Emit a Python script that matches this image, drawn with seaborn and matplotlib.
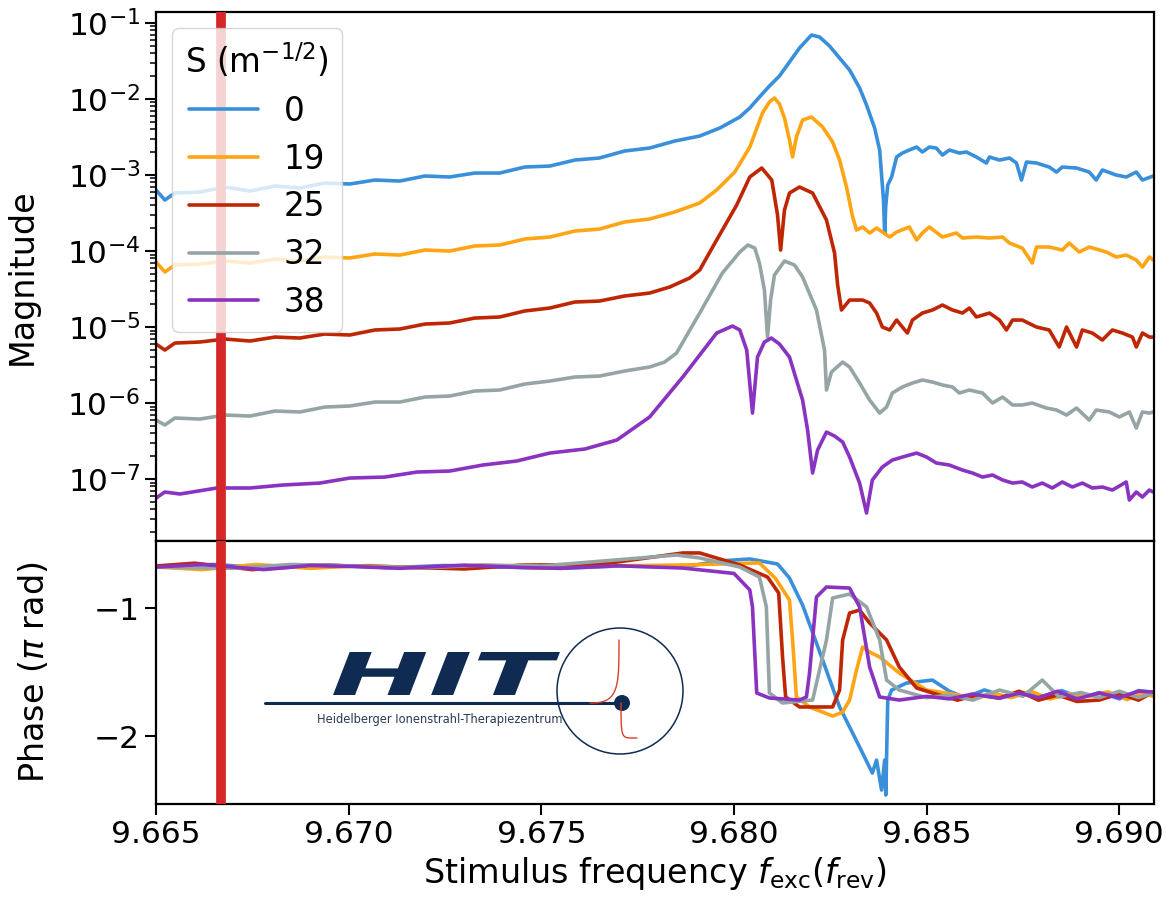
import numpy as np
import pandas as pd
import matplotlib
matplotlib.use("Agg")
import matplotlib.pyplot as plt
import seaborn as sns
from matplotlib.textpath import TextPath
from matplotlib.font_manager import FontProperties
from matplotlib.patches import PathPatch, Circle
from matplotlib.lines import Line2D
from matplotlib.transforms import Affine2D
from matplotlib.ticker import LogLocator, FixedLocator, FormatStrFormatter, NullFormatter

# ---------------- data ----------------
s_labels = ["0", "19", "25", "32", "38"]
colors = ["#3a8fdb", "#ffa514", "#bf2604", "#95a5a6", "#8a33c0"]
marker_freq = 9.66669

# Magnitude, stored as log10(|H|)
mag_f_s0 = [9.66500, 9.66523, 9.66549, 9.66614, 9.66679, 9.66744, 9.66809, 9.66873, 9.66938, 9.67003,
            9.67068, 9.67133, 9.67198, 9.67262, 9.67327, 9.67392, 9.67457, 9.67522, 9.67587, 9.67651,
            9.67716, 9.67781, 9.67846, 9.67911, 9.67963, 9.68015, 9.68041, 9.68066, 9.68092, 9.68118,
            9.68144, 9.68170, 9.68201, 9.68222, 9.68248, 9.68274, 9.68300, 9.68326, 9.68344, 9.68365,
            9.68378, 9.68383, 9.68388, 9.68391, 9.68394, 9.68399, 9.68409, 9.68422, 9.68437, 9.68455,
            9.68474, 9.68489, 9.68507, 9.68525, 9.68541, 9.68559, 9.68585, 9.68603, 9.68629, 9.68655,
            9.68663, 9.68689, 9.68715, 9.68733, 9.68746, 9.68759, 9.68785, 9.68818, 9.68837, 9.68852,
            9.68889, 9.68922, 9.68940, 9.68956, 9.68992, 9.69018, 9.69044, 9.69060, 9.69088]
mag_log_s0 = [-3.197, -3.329, -3.237, -3.224, -3.158, -3.211, -3.145, -3.171, -3.105, -3.118,
              -3.066, -3.079, -3.013, -3.026, -2.974, -2.974, -2.895, -2.882, -2.803, -2.776,
              -2.684, -2.645, -2.553, -2.487, -2.382, -2.237, -2.118, -1.974, -1.829, -1.697,
              -1.513, -1.329, -1.158, -1.184, -1.303, -1.461, -1.618, -1.855, -2.079, -2.382,
              -2.671, -3.000, -3.329, -3.763, -3.395, -3.132, -3.026, -2.763, -2.711, -2.671,
              -2.632, -2.697, -2.632, -2.645, -2.737, -2.671, -2.711, -2.697, -2.763, -2.842,
              -2.763, -2.803, -2.776, -2.842, -3.066, -2.829, -2.842, -2.895, -2.961, -2.895,
              -2.908, -2.961, -3.066, -2.934, -3.000, -3.026, -2.961, -3.066, -3.013]

mag_f_s19 = [9.66500, 9.66523, 9.66549, 9.66614, 9.66679, 9.66744, 9.66809, 9.66873, 9.66938, 9.67003,
             9.67068, 9.67133, 9.67198, 9.67262, 9.67327, 9.67392, 9.67457, 9.67522, 9.67587, 9.67651,
             9.67716, 9.67781, 9.67846, 9.67911, 9.67955, 9.68002, 9.68041, 9.68074, 9.68092, 9.68105,
             9.68118, 9.68131, 9.68144, 9.68152, 9.68162, 9.68178, 9.68201, 9.68230, 9.68256, 9.68274,
             9.68292, 9.68308, 9.68318, 9.68334, 9.68352, 9.68370, 9.68385, 9.68404, 9.68422, 9.68455,
             9.68474, 9.68489, 9.68507, 9.68541, 9.68577, 9.68593, 9.68629, 9.68663, 9.68697, 9.68715,
             9.68748, 9.68774, 9.68785, 9.68818, 9.68852, 9.68870, 9.68896, 9.68922, 9.68966, 9.68992,
             9.69018, 9.69044, 9.69060, 9.69078, 9.69088]
mag_log_s19 = [-4.145, -4.276, -4.184, -4.171, -4.132, -4.158, -4.105, -4.132, -4.079, -4.092,
               -4.039, -4.053, -3.987, -4.000, -3.934, -3.921, -3.842, -3.816, -3.737, -3.711,
               -3.618, -3.579, -3.487, -3.368, -3.197, -2.961, -2.632, -2.184, -2.039, -1.987,
               -2.066, -2.250, -2.539, -2.763, -2.500, -2.276, -2.237, -2.368, -2.566, -2.803,
               -3.158, -3.553, -3.724, -3.684, -3.763, -3.697, -3.750, -3.816, -3.750, -3.684,
               -3.855, -3.763, -3.684, -3.816, -3.763, -3.829, -3.816, -3.829, -3.816, -3.895,
               -3.961, -4.158, -3.947, -3.947, -3.987, -3.895, -4.013, -3.947, -4.013, -4.079,
               -4.053, -4.118, -4.211, -4.079, -4.118]

mag_f_s25 = [9.66500, 9.66523, 9.66549, 9.66614, 9.66679, 9.66744, 9.66809, 9.66873, 9.66938, 9.67003,
             9.67068, 9.67133, 9.67198, 9.67262, 9.67327, 9.67392, 9.67457, 9.67522, 9.67587, 9.67651,
             9.67716, 9.67781, 9.67833, 9.67885, 9.67911, 9.67955, 9.68007, 9.68041, 9.68072, 9.68098,
             9.68113, 9.68121, 9.68131, 9.68144, 9.68170, 9.68204, 9.68240, 9.68261, 9.68269, 9.68279,
             9.68300, 9.68334, 9.68352, 9.68370, 9.68385, 9.68404, 9.68422, 9.68437, 9.68450, 9.68463,
             9.68489, 9.68515, 9.68541, 9.68567, 9.68593, 9.68611, 9.68629, 9.68663, 9.68689, 9.68707,
             9.68723, 9.68748, 9.68785, 9.68818, 9.68844, 9.68863, 9.68889, 9.68904, 9.68930, 9.68956,
             9.68982, 9.69008, 9.69034, 9.69044, 9.69060, 9.69078, 9.69088]
mag_log_s25 = [-5.224, -5.303, -5.211, -5.197, -5.158, -5.184, -5.132, -5.145, -5.092, -5.105,
               -5.039, -5.026, -4.961, -4.947, -4.882, -4.868, -4.789, -4.750, -4.671, -4.658,
               -4.592, -4.553, -4.474, -4.355, -4.250, -3.855, -3.395, -3.026, -2.908, -3.066,
               -3.526, -3.987, -3.461, -3.237, -3.158, -3.237, -3.592, -4.026, -4.447, -4.776,
               -4.645, -4.645, -4.684, -4.816, -5.000, -5.039, -4.908, -5.000, -5.079, -4.908,
               -4.816, -4.776, -4.711, -4.776, -4.816, -4.750, -4.868, -4.816, -4.908, -5.039,
               -4.908, -4.908, -5.000, -5.039, -5.263, -5.000, -5.263, -5.039, -5.079, -5.171,
               -5.039, -5.079, -5.132, -5.263, -5.079, -5.132, -5.132]

mag_f_s32 = [9.66500, 9.66523, 9.66549, 9.66614, 9.66679, 9.66744, 9.66809, 9.66873, 9.66938, 9.67003,
             9.67068, 9.67133, 9.67198, 9.67262, 9.67327, 9.67392, 9.67457, 9.67522, 9.67587, 9.67651,
             9.67716, 9.67781, 9.67820, 9.67851, 9.67911, 9.67970, 9.68015, 9.68036, 9.68054, 9.68066,
             9.68079, 9.68087, 9.68095, 9.68105, 9.68131, 9.68157, 9.68178, 9.68214, 9.68235, 9.68240,
             9.68253, 9.68282, 9.68300, 9.68326, 9.68352, 9.68378, 9.68396, 9.68411, 9.68437, 9.68463,
             9.68489, 9.68515, 9.68541, 9.68567, 9.68585, 9.68611, 9.68645, 9.68671, 9.68697, 9.68723,
             9.68748, 9.68774, 9.68811, 9.68837, 9.68863, 9.68889, 9.68922, 9.68940, 9.68974, 9.69000,
             9.69026, 9.69044, 9.69060, 9.69078, 9.69088]
mag_log_s32 = [-6.224, -6.289, -6.197, -6.211, -6.158, -6.171, -6.105, -6.118, -6.053, -6.039,
               -5.987, -5.987, -5.921, -5.908, -5.842, -5.829, -5.750, -5.711, -5.658, -5.645,
               -5.579, -5.526, -5.461, -5.342, -4.816, -4.289, -4.013, -3.921, -3.961, -4.158,
               -4.513, -5.132, -4.645, -4.316, -4.132, -4.184, -4.342, -4.776, -5.303, -5.829,
               -5.592, -5.461, -5.526, -5.737, -5.961, -6.132, -6.053, -5.868, -5.789, -5.737,
               -5.697, -5.724, -5.763, -5.789, -5.868, -5.829, -5.868, -6.000, -5.921, -6.026,
               -6.026, -6.000, -6.066, -6.092, -6.158, -6.066, -6.224, -6.092, -6.118, -6.184,
               -6.118, -6.329, -6.118, -6.132, -6.118]

mag_f_s38 = [9.66500, 9.66523, 9.66562, 9.66658, 9.66744, 9.66829, 9.66925, 9.67003, 9.67094, 9.67177,
             9.67262, 9.67348, 9.67436, 9.67522, 9.67613, 9.67696, 9.67781, 9.67867, 9.67955, 9.67996,
             9.68015, 9.68033, 9.68048, 9.68061, 9.68079, 9.68097, 9.68118, 9.68144, 9.68178, 9.68191,
             9.68204, 9.68217, 9.68240, 9.68261, 9.68282, 9.68300, 9.68326, 9.68344, 9.68359, 9.68385,
             9.68411, 9.68437, 9.68474, 9.68500, 9.68525, 9.68559, 9.68593, 9.68619, 9.68645, 9.68671,
             9.68697, 9.68723, 9.68748, 9.68774, 9.68800, 9.68826, 9.68852, 9.68878, 9.68904, 9.68930,
             9.68956, 9.68982, 9.69018, 9.69026, 9.69044, 9.69060, 9.69078, 9.69088]
mag_log_s38 = [-7.250, -7.171, -7.197, -7.118, -7.118, -7.079, -7.053, -6.987, -6.974, -6.908,
               -6.895, -6.816, -6.763, -6.658, -6.605, -6.487, -6.184, -5.658, -5.079, -4.987,
               -5.039, -5.303, -6.132, -5.395, -5.197, -5.145, -5.224, -5.395, -5.961, -6.355,
               -6.921, -6.618, -6.382, -6.434, -6.513, -6.711, -7.053, -7.447, -7.013, -6.842,
               -6.750, -6.711, -6.658, -6.711, -6.789, -6.816, -6.882, -6.921, -6.974, -6.947,
               -7.013, -7.053, -7.039, -7.105, -7.053, -7.118, -7.039, -7.105, -7.053, -7.118,
               -7.105, -7.145, -7.039, -7.276, -7.171, -7.237, -7.145, -7.171]

# Phase in units of pi rad
ph_f_s0 = [9.66500, 9.66650, 9.66800, 9.66950, 9.67100, 9.67250, 9.67400, 9.67550, 9.67700, 9.67867,
           9.67963, 9.68041, 9.68113, 9.68144, 9.68178, 9.68214, 9.68274, 9.68326, 9.68359, 9.68370,
           9.68383, 9.68391, 9.68394, 9.68399, 9.68409, 9.68448, 9.68515, 9.68559, 9.68600, 9.68650,
           9.68700, 9.68750, 9.68800, 9.68850, 9.68900, 9.68950, 9.69000, 9.69050, 9.69088]
ph_s0 = [-0.680, -0.660, -0.690, -0.665, -0.685, -0.668, -0.680, -0.690, -0.672, -0.680,
         -0.633, -0.617, -0.656, -0.766, -0.977, -1.273, -1.773, -2.086, -2.289, -2.188,
         -2.422, -2.188, -2.461, -1.719, -1.641, -1.586, -1.563, -1.650, -1.700, -1.640,
         -1.690, -1.660, -1.700, -1.645, -1.700, -1.660, -1.710, -1.645, -1.660]

ph_f_s19 = [9.66500, 9.66620, 9.66760, 9.66900, 9.67050, 9.67200, 9.67350, 9.67500, 9.67651, 9.67867,
            9.68066, 9.68107, 9.68144, 9.68152, 9.68162, 9.68196, 9.68256, 9.68282, 9.68300, 9.68318,
            9.68334, 9.68352, 9.68378, 9.68429, 9.68500, 9.68567, 9.68620, 9.68670, 9.68720, 9.68770,
            9.68820, 9.68870, 9.68920, 9.68970, 9.69020, 9.69060, 9.69088]
ph_s19 = [-0.680, -0.700, -0.660, -0.690, -0.668, -0.688, -0.664, -0.690, -0.672, -0.664,
          -0.648, -0.766, -0.938, -1.250, -1.695, -1.773, -1.844, -1.813, -1.719, -1.484,
          -1.305, -1.344, -1.383, -1.508, -1.641, -1.672, -1.705, -1.665, -1.700, -1.650,
          -1.710, -1.670, -1.690, -1.655, -1.715, -1.665, -1.690]

ph_f_s25 = [9.66500, 9.66600, 9.66750, 9.66900, 9.67133, 9.67300, 9.67450, 9.67651, 9.67867, 9.67911,
            9.68015, 9.68087, 9.68116, 9.68126, 9.68134, 9.68170, 9.68256, 9.68274, 9.68282, 9.68300,
            9.68326, 9.68352, 9.68396, 9.68429, 9.68474, 9.68515, 9.68580, 9.68630, 9.68689, 9.68740,
            9.68790, 9.68840, 9.68890, 9.68948, 9.69000, 9.69050, 9.69088]
ph_s25 = [-0.672, -0.650, -0.700, -0.664, -0.680, -0.695, -0.665, -0.660, -0.570, -0.570,
          -0.664, -0.758, -0.883, -1.383, -1.695, -1.773, -1.773, -1.641, -1.250, -1.039,
          -1.016, -1.117, -1.250, -1.461, -1.625, -1.664, -1.720, -1.680, -1.703, -1.650,
          -1.720, -1.680, -1.730, -1.719, -1.670, -1.720, -1.656]

ph_f_s32 = [9.66500, 9.66700, 9.66850, 9.66950, 9.67200, 9.67350, 9.67500, 9.67851, 9.67911, 9.68015,
            9.68066, 9.68084, 9.68092, 9.68126, 9.68204, 9.68240, 9.68256, 9.68300, 9.68344, 9.68378,
            9.68396, 9.68429, 9.68500, 9.68559, 9.68620, 9.68689, 9.68750, 9.68800, 9.68844, 9.68900,
            9.68948, 9.69000, 9.69050, 9.69088]
ph_s32 = [-0.680, -0.690, -0.660, -0.668, -0.685, -0.665, -0.672, -0.586, -0.609, -0.680,
          -0.758, -0.992, -1.664, -1.742, -1.719, -1.250, -0.922, -0.891, -0.992, -1.250,
          -1.563, -1.641, -1.700, -1.680, -1.720, -1.641, -1.690, -1.563, -1.695, -1.660,
          -1.700, -1.650, -1.700, -1.664]

ph_f_s38 = [9.66500, 9.66620, 9.66780, 9.66900, 9.67003, 9.67133, 9.67300, 9.67450, 9.67550, 9.67700,
            9.67867, 9.68000, 9.68041, 9.68048, 9.68059, 9.68092, 9.68170, 9.68188, 9.68196, 9.68214,
            9.68240, 9.68300, 9.68326, 9.68352, 9.68378, 9.68429, 9.68500, 9.68559, 9.68620, 9.68689,
            9.68740, 9.68790, 9.68840, 9.68890, 9.68948, 9.69000, 9.69050, 9.69088]
ph_s38 = [-0.680, -0.660, -0.700, -0.668, -0.675, -0.690, -0.665, -0.684, -0.690, -0.670,
          -0.688, -0.730, -0.859, -0.992, -1.664, -1.703, -1.719, -1.695, -1.508, -0.914,
          -0.836, -0.844, -0.992, -1.461, -1.695, -1.719, -1.690, -1.710, -1.672, -1.705,
          -1.665, -1.700, -1.650, -1.710, -1.664, -1.700, -1.650, -1.656]

mag_freqs = [mag_f_s0, mag_f_s19, mag_f_s25, mag_f_s32, mag_f_s38]
mag_logs = [mag_log_s0, mag_log_s19, mag_log_s25, mag_log_s32, mag_log_s38]
ph_freqs = [ph_f_s0, ph_f_s19, ph_f_s25, ph_f_s32, ph_f_s38]
phases = [ph_s0, ph_s19, ph_s25, ph_s32, ph_s38]

df_mag = pd.concat([pd.DataFrame({"freq": f, "mag": 10.0 ** np.array(v), "S": s})
                    for f, v, s in zip(mag_freqs, mag_logs, s_labels)], ignore_index=True)
df_ph = pd.concat([pd.DataFrame({"freq": f, "phase": v, "S": s})
                   for f, v, s in zip(ph_freqs, phases, s_labels)], ignore_index=True)
palette = dict(zip(s_labels, colors))

# ---------------- figure ----------------
sns.set_theme(style="ticks")
plt.rcParams["font.family"] = ["DejaVu Sans"]
plt.rcParams["mathtext.fontset"] = "dejavusans"
for k in ("text.color", "axes.labelcolor", "xtick.color", "ytick.color", "axes.edgecolor"):
    plt.rcParams[k] = "black"
FS = 22.5
LFS = 24

W, H = 11.66, 9.09
fig = plt.figure(figsize=(W, H), dpi=100)
L, R = 156 / 1166, 1154 / 1166
ax1 = fig.add_axes([L, 1 - 541 / 909, R - L, (541 - 12) / 909])
ax2 = fig.add_axes([L, 1 - 804 / 909, R - L, (804 - 541) / 909], sharex=ax1)

sns.lineplot(data=df_mag, x="freq", y="mag", hue="S", hue_order=s_labels, palette=palette,
             estimator=None, sort=False, linewidth=2.6, ax=ax1)
sns.lineplot(data=df_ph, x="freq", y="phase", hue="S", hue_order=s_labels, palette=palette,
             estimator=None, sort=False, linewidth=2.6, ax=ax2, legend=False)

for ax in (ax1, ax2):
    ax.axvline(marker_freq, color="#d62728", lw=7, zorder=3)
    for sp in ax.spines.values():
        sp.set_linewidth(1.6)
        sp.set_color("black")
        sp.set_visible(True)

ax1.set_yscale("log")
ax1.set_ylim(1.53e-8, 0.1396)
ax1.yaxis.set_major_locator(FixedLocator([1e-7, 1e-6, 1e-5, 1e-4, 1e-3, 1e-2, 1e-1]))
ax1.yaxis.set_minor_locator(LogLocator(base=10, subs=np.arange(2, 10), numticks=20))
ax1.yaxis.set_minor_formatter(NullFormatter())
ax1.tick_params(axis="y", which="major", labelsize=FS, length=8, width=1.5, direction="out")
ax1.tick_params(axis="y", which="minor", length=4.5, width=1.1, direction="out")
ax1.tick_params(axis="x", which="both", length=0, labelbottom=False)
ax1.set_xlabel("")
ax1.set_ylabel("Magnitude", fontsize=LFS)
ax1.yaxis.set_label_coords(-0.117, 0.5)

ax2.set_xlim(9.665, 9.6909)
ax2.set_ylim(-2.531, -0.4766)
ax2.yaxis.set_major_locator(FixedLocator([-2, -1]))
ax2.xaxis.set_major_locator(FixedLocator([9.665, 9.670, 9.675, 9.680, 9.685, 9.690]))
ax2.xaxis.set_major_formatter(FormatStrFormatter("%.3f"))
ax2.tick_params(axis="both", which="major", labelsize=FS, length=8, width=1.5, direction="out")
ax2.set_ylabel(r"Phase ($\pi$ rad)", fontsize=LFS)
ax2.yaxis.set_label_coords(-0.105, 0.5)
ax2.set_xlabel(r"Stimulus frequency $f_{\mathrm{exc}}(f_{\mathrm{rev}})$", fontsize=LFS)

handles, labels = ax1.get_legend_handles_labels()
leg = ax1.legend(handles, labels, title=r"S (m$^{-1/2}$)", loc="upper left", fontsize=23.5,
                 title_fontsize=23.5, handlelength=2.1, labelspacing=0.45, framealpha=0.8,
                 borderaxespad=0.5)
for h in leg.get_lines():
    h.set_linewidth(2.6)

# ---------------- HIT logo (decoration, in inches from figure bottom-left) ----------------
navy = "#0f2b52"
def P(px, py):
    return px / 100.0, (909 - py) / 100.0

tr_in = fig.dpi_scale_trans
tp = TextPath((0, 0), "HIT", size=1, prop=FontProperties(family="DejaVu Sans", weight="bold", style="italic"))
bb = tp.get_extents()
x0, y0 = P(333, 695)
x1, y1 = P(560, 652)
tf = Affine2D().translate(-bb.x0, -bb.y0).scale((x1 - x0) / bb.width, (y1 - y0) / bb.height).translate(x0, y0)
fig.add_artist(PathPatch(tp, transform=tf + tr_in, facecolor=navy, edgecolor="none"))
cx, cy = P(620, 691)
fig.add_artist(Circle((cx, cy), 0.63, transform=tr_in, fill=False, edgecolor=navy, lw=1.1))
lx0, ly = P(265, 703)
lx1, _ = P(622, 703)
fig.add_artist(Line2D([lx0, lx1], [ly, ly], transform=tr_in, color=navy, lw=2.2))
t = np.linspace(0, 1, 60)
up_x = [P(590 + 29 * (1 - (1 - s) ** 3), 0)[0] for s in t]
up_y = [P(0, 703 - 63 * s ** 2.2)[1] for s in t]
fig.add_artist(Line2D(up_x, up_y, transform=tr_in, color="#d8402a", lw=1.0))
dn_x = [P(621 + 16 * s ** 2.5, 0)[0] for s in t]
dn_y = [P(0, 703 + 35 * (1 - (1 - s) ** 4))[1] for s in t]
fig.add_artist(Line2D(dn_x, dn_y, transform=tr_in, color="#d8402a", lw=1.0))
dx, dy = P(622, 703)
fig.add_artist(Circle((dx, dy), 0.08, transform=tr_in, facecolor=navy, edgecolor="none"))
tx, ty = P(440, 720)
fig.text(tx / W, ty / H, "Heidelberger Ionenstrahl-Therapiezentrum", ha="center", va="center",
         fontsize=8.3, color="#2b3a55")

fig.savefig("out.png", dpi=100)
